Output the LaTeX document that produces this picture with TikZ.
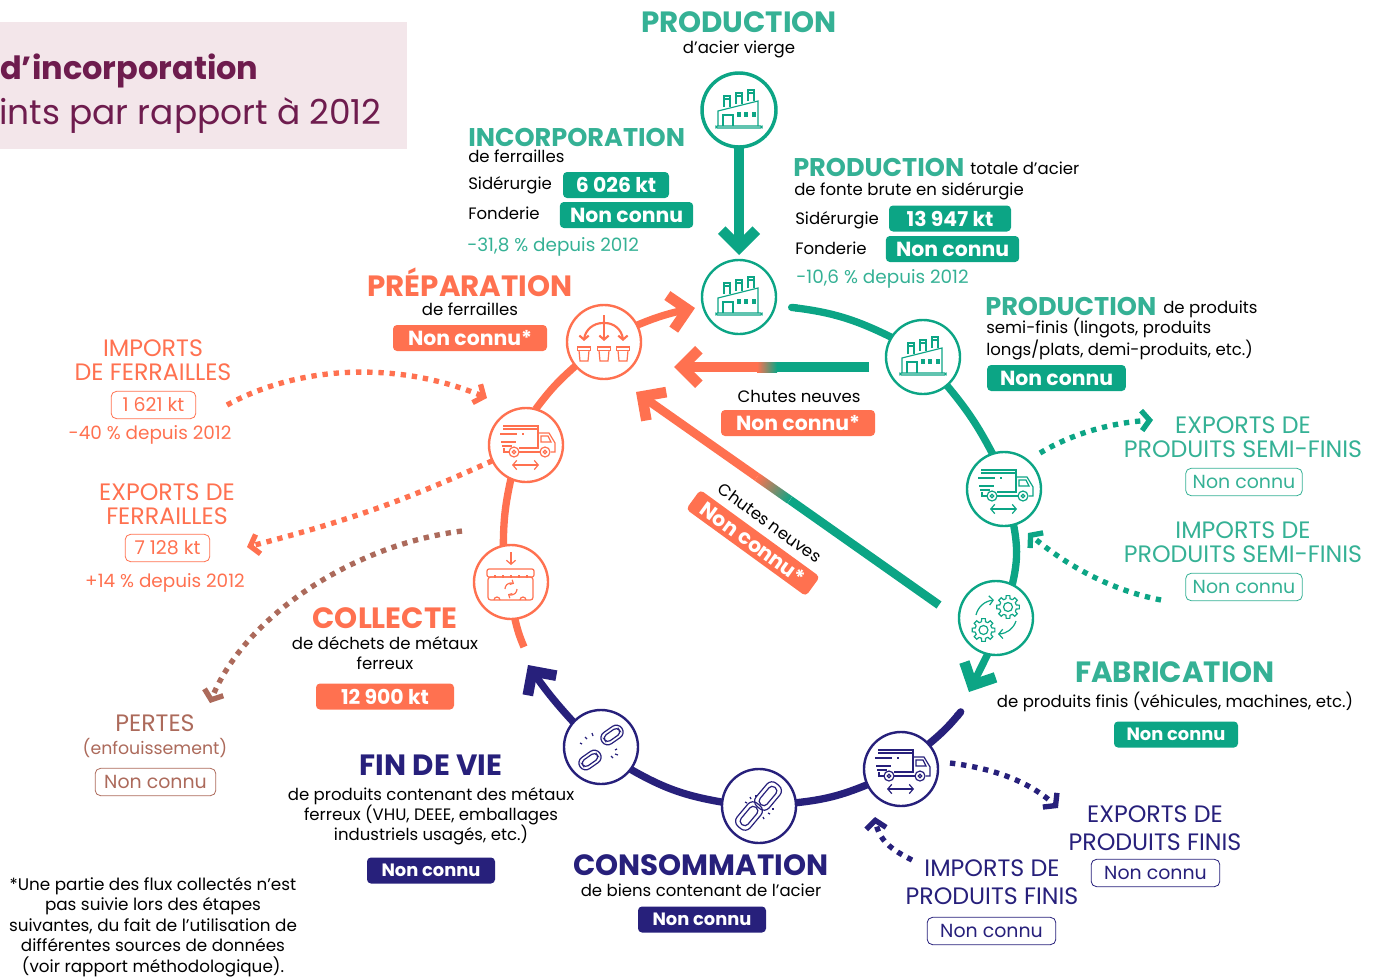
\documentclass[tikz,border=0pt]{standalone}
\usepackage{fontspec}
\setmainfont{Poppins}
\usetikzlibrary{arrows.meta,bending}
\definecolor{vert}{HTML}{0CA585}
\definecolor{vertclair}{HTML}{35B195}
\definecolor{orange}{HTML}{FF7150}
\definecolor{marine}{HTML}{27207B}
\definecolor{brun}{HTML}{AC6A5B}
\definecolor{bordeaux}{HTML}{6E1C4E}
\definecolor{rose}{HTML}{F3E6EA}
\tikzset{
	x=0.75pt,y=-0.75pt,
	etape/.style={draw,circle,minimum size=55.5pt,inner sep=0pt,outer sep=0pt,line width=1.8pt,fill=none},
	titre/.style={font=\fontsize{22}{24}\selectfont\bfseries,inner sep=0pt},
	soustitre/.style={font=\fontsize{19.2}{21}\selectfont\bfseries,inner sep=0pt},
	texte/.style={font=\fontsize{12.4}{15}\selectfont,inner sep=0pt,align=center,text=black},
	ligne/.style={texte,text height=11pt,text depth=2.5pt},
	pourcent/.style={ligne,font=\fontsize{13.8}{15}\selectfont},
	flux/.style={font=\fontsize{17.8}{18}\selectfont,inner sep=0pt,align=center},
	valeur/.style={font=\fontsize{15.3}{16}\selectfont\bfseries,text=white,rounded corners=3pt,inner sep=0pt,minimum height=19.5pt},
	petitevaleur/.style={valeur,font=\fontsize{13.4}{15}\selectfont\bfseries},
	contour/.style={font=\fontsize{14.2}{15}\selectfont,draw,rounded corners=4pt,inner sep=0pt,minimum height=20.5pt,line width=.6pt},
	anneau/.style={line width=5.5pt},
	pointille/.style={line width=4pt,dash pattern=on 4pt off 4.4pt},
	grande/.style={-{Straight Barb[length=13pt,width=26pt,line width=8pt]}},
	petite/.style={-{Straight Barb[length=6pt,width=15pt,line width=4pt]}},
	trait/.style={line width=.9pt},
	pics/usine/.style={code={
		\draw[trait] (-21,16)--(-21,1)--(19,-9)--(19,16);
		\draw[trait] (-16,16)--(-16,5)--(-6,5)--(-6,16);
		\draw[trait,rounded corners=1pt] (-23,16) rectangle (23,18);
		\foreach \cx/\cy in {-12/-14,0/-17,12/-20} {
			\draw[trait] (\cx-3,\cy+11)--(\cx-3,\cy)--(\cx+3,\cy)--(\cx+3,\cy+11);
			\draw[trait] (\cx-3,\cy+3)--(\cx+3,\cy+3);
		}
		\foreach \cx in {0,7,15}
			\draw[trait] (\cx-1,3) rectangle (\cx+1,6);
	}},
	pics/camion/.style={code={
		\draw[trait] (-23,-19)--(12,-19)--(12,3)--(-7,3);
		\draw[trait] (-23,-16)--(12,-16);
		\draw[trait] (-26,-11)--(-9,-11) (-4,-11)--(-2,-11) (-25,-3)--(-10,-3) (-24,1)--(-14,1);
		\draw[trait] (-22,3)--(-22,7)--(-17,7) (-7,7)--(14,7);
		\draw[trait] (12,-12)--(23,-12)--(29,-2)--(29,7)--(25,7);
		\draw[trait] (15,-9)--(22,-9)--(25,-3)--(15,-3)--cycle;
		\foreach \rx in {-12,19} {
			\draw[trait] (\rx,7) circle (5);
			\draw[trait] (\rx,7) circle (1.8);
		}
		\draw[trait,{Straight Barb[length=3pt,width=7pt]}-{Straight Barb[length=3pt,width=7pt]}] (-14,20)--(13,20);
	}},
	pics/roue/.style={code={
		\draw[trait] (0,0) circle (4.5);
		\foreach \a in {0,45,...,315}
			\draw[trait] (\a-14:8.5)--(\a-9:11.5)--(\a+9:11.5)--(\a+14:8.5)--(\a+31:8.5);
	}},
	pics/engrenages/.style={code={
		\pic at (12,-11) {roue};
		\pic at (-12.5,12) {roue};
		\draw[trait,-{Straight Barb[length=3pt,width=7pt]}] (-20,-3) to[bend left=35] (-2,-18);
		\draw[trait,-{Straight Barb[length=3pt,width=7pt]}] (20,3) to[bend left=35] (2,16);
	}},
	pics/maillon/.style={code={
		\draw[trait,rounded corners=5pt] (-15,-8.5) rectangle (15,8.5);
		\draw[trait,rounded corners=3pt] (-11,-4.5) rectangle (11,4.5);
	}},
	pics/chaine/.style={code={
		\pic[rotate=50] at (9,-10) {maillon};
		\pic[rotate=50] at (-10,10) {maillon};
		\foreach \ax/\ay/\bx/\by in {-8/-7/-9/-9,-3/-9/-3/-11,-12/-3/-14/-4,9/7/11/8,4/11/5/13,13/3/15/3}
			\draw[trait] (\ax,\ay)--(\bx,\by);
	}},
	pics/rompue/.style={code={
		\pic[rotate=35,scale=.8] at (11,-12) {maillon};
		\pic[rotate=35,scale=.8] at (-11,13) {maillon};
		\foreach \ax/\ay/\bx/\by in {-14/-8/-16/-10,-8/-11/-9/-14,-19/-3/-21/-4,14/3/16/2,10/9/12/11,14/7/17/8}
			\draw[trait] (\ax,\ay)--(\bx,\by);
	}},
	pics/tri/.style={code={
		\foreach \bx in {-20,0,19} {
			\draw[trait] (\bx-6.5,5) rectangle (\bx+6.5,8.5);
			\draw[trait] (\bx-5,8.5)--(\bx-4,19)--(\bx+4,19)--(\bx+5,8.5);
		}
		\draw[line width=1.6pt,-{Straight Barb[length=3pt,width=7pt]}] (0,-27)--(0,-1);
		\draw[line width=1.6pt,-{Straight Barb[length=3pt,width=7pt]}] (-1,-19) to[out=180,in=90] (-20,-1);
		\draw[line width=1.6pt,-{Straight Barb[length=3pt,width=7pt]}] (1,-19) to[out=0,in=90] (19,-1);
	}},
	pics/benne/.style={code={
		\draw[trait,-{Straight Barb[length=3pt,width=7pt]}] (0,-30)--(0,-17);
		\draw[trait,rounded corners=1.5pt] (-24,-13) rectangle (23,-5);
		\foreach \dx in {-16,-8,0,8,16}
			\draw[trait] (\dx,-7)--(\dx,-4);
		\draw[trait,rounded corners=2pt] (-23,-5) rectangle (22,18);
		\foreach \rx in {-14,12}
			\draw[trait] (\rx-3,18) arc[start angle=180,end angle=360,radius=3];
		\draw[trait,-{Straight Barb[length=2pt,width=4pt]}] (-6,7) arc[start angle=180,end angle=300,radius=6];
		\draw[trait,-{Straight Barb[length=2pt,width=4pt]}] (6,7) arc[start angle=0,end angle=120,radius=6];
	}},
}
\begin{document}
\begin{tikzpicture}
	\useasboundingbox (0,0) rectangle (1379,978);
	% encadre du titre
	\fill[rose] (0,22) rectangle (407,149);
	\node[anchor=west,inner sep=0pt,text=bordeaux,font=\fontsize{24}{26}\selectfont\bfseries] (titrea) at (0,71) {d’incorporation};
	\node[anchor=east,inner sep=0pt,text=bordeaux,font=\fontsize{25.8}{28}\selectfont] (titreb) at (382,116) {ints par rapport à 2012};

	% etapes
	\node[etape,vert,line width=2.6pt] (fa) at (739,110) {};
	\node[etape,vert] (fb) at (739,297) {};
	\node[etape,vert] (fc) at (923,357) {};
	\node[etape,vert] (ta) at (1004,489) {};
	\node[etape,vert] (g) at (996,618) {};
	\node[etape,marine] (tb) at (901,769) {};
	\node[etape,marine] (c) at (759,806) {};
	\node[etape,marine] (b) at (601,747) {};
	\node[etape,orange] (d) at (511,582) {};
	\node[etape,orange] (tc) at (526,445) {};
	\node[etape,orange] (s) at (604,342) {};

	\pic[vert] at (fa) {usine};
	\pic[vert] at (fb) {usine};
	\pic[vert] at (fc) {usine};
	\pic[vert] at (ta) {camion};
	\pic[vert] at (g) {engrenages};
	\pic[marine] at (tb) {camion};
	\pic[marine] at (c) {chaine};
	\pic[marine] at (b) {rompue};
	\pic[orange] at (d) {benne};
	\pic[orange] at (tc) {camion};
	\pic[orange] at (s) {tri};

	% points libres
	\coordinate (fba) at (788,307);
	\coordinate (gfl) at (969,692);
	\coordinate (tba) at (963,709);
	\coordinate (bfl) at (528,665);
	\coordinate (dba) at (524,647);
	\coordinate (sfl) at (695,308);
	\coordinate (fal) at (739,255);
	\coordinate (ha) at (869,367);
	\coordinate (hb) at (777,367);
	\coordinate (hc) at (757,367);
	\coordinate (hd) at (674,367);
	\coordinate (da) at (939,605);
	\coordinate (db) at (790,500);
	\coordinate (dc) at (757,477);
	\coordinate (dd) at (636,392);

	% anneau
	\draw[vert,line width=7pt,grande] (fa) -- (fal);
	\draw[anneau,vert,{Round Cap[]}-] (fba) to[bend left=10] (fc.148);
	\draw[anneau,vert] (fc.-50) to[bend left=6] (ta.108);
	\draw[anneau,vert] (ta.-75) to[bend left=12] (g.64);
	\draw[anneau,vert,grande] (g.-103) -- (gfl);
	\draw[anneau,marine,{Round Cap[]}-] (tba) to[bend left=6] (tb.42);
	\draw[anneau,marine] (tb.205) to[bend left=8] (c.5);
	\draw[anneau,marine] (c.174) to[bend left=10] (b.-37);
	\draw[anneau,marine,grande] (b.138) to[bend left=4] (bfl);
	\draw[anneau,orange] (dba) to[bend left=5] (d.-84);
	\draw[anneau,orange] (d.102) to[bend left=6] (tc.-114);
	\draw[anneau,orange] (tc.75) to[bend left=6] (s.220);
	\draw[anneau,orange,grande] (s.27) to[bend left=6] (sfl);

	% chutes
	\draw[vert,line width=7.5pt] (ha) -- (hb);
	\shade[left color=orange,right color=vert] (757,362) rectangle (777,372);
	\draw[orange,line width=7.5pt,grande] (hc) -- (hd);
	\draw[vert,line width=6.5pt] (da) -- (db);
	\shade[transform canvas={shift={(dc)},rotate=-35},left color=orange,right color=vert] (0,-4.4) rectangle (40,4.4);
	\draw[orange,line width=6.5pt,grande] (dc) -- (dd);

	% flux pointilles
	\coordinate (ifa) at (227,405);
	\coordinate (ifb) at (487,398);
	\coordinate (efb) at (247,547);
	\coordinate (pa) at (462,531);
	\coordinate (pb) at (210,703);
	\coordinate (esa) at (1040,453);
	\coordinate (esb) at (1153,420);
	\coordinate (isa) at (1161,600);
	\coordinate (isb) at (1028,533);
	\coordinate (epa) at (950,763);
	\coordinate (epb) at (1058,808);
	\coordinate (ipa) at (912,860);
	\coordinate (ipb) at (875,817);
	\draw[pointille,orange,petite] (ifa) .. controls (300,365) and (400,360) .. (ifb);
	\draw[pointille,orange,petite] (tc) to[bend left=5] (efb);
	\draw[pointille,brun,petite] (pa) .. controls (350,545) and (240,620) .. (pb);
	\draw[pointille,vert,petite] (esa) .. controls (1075,432) and (1115,422) .. (esb);
	\draw[pointille,vert,petite] (isa) .. controls (1110,590) and (1065,565) .. (isb);
	\draw[pointille,marine,petite] (epa) .. controls (990,768) and (1030,780) .. (epb);
	\draw[pointille,marine,petite] (ipa) .. controls (888,848) and (877,838) .. (ipb);

	% textes
	\node[titre,vertclair] (prodv) at (739,22) {PRODUCTION};
	\node[ligne] (prodvb) at (739,48) {d’acier vierge};

	\node[soustitre,vertclair,anchor=west] (inc) at (468,137) {INCORPORATION};
	\node[ligne,anchor=west] (incb) at (468,157) {de ferrailles};
	\node[ligne,anchor=west] (incc) at (468,184) {Sidérurgie};
	\node[ligne,anchor=west] (incd) at (468,214) {Fonderie};
	\node[valeur,fill=vert,minimum width=79.5pt] (ince) at (616,185) {6 026 kt};
	\node[valeur,fill=vert,minimum width=100pt] (incf) at (626.5,215) {Non connu};
	\node[pourcent,anchor=west,text=vertclair] (incg) at (467,246) {-31,8 \% depuis 2012};

	\node[soustitre,vertclair,anchor=west] (prodt) at (793,167) {PRODUCTION};
	\node[ligne,anchor=west] (prodtb) at (970,169) {totale d’acier};
	\node[ligne,anchor=west] (prodtc) at (794,190) {de fonte brute en sidérurgie};
	\node[ligne,anchor=west] (prodtd) at (795,219) {Sidérurgie};
	\node[ligne,anchor=west] (prodte) at (795,249) {Fonderie};
	\node[valeur,fill=vert,minimum width=91.5pt] (prodtf) at (950,218.5) {13 947 kt};
	\node[valeur,fill=vert,minimum width=100pt] (prodtg) at (952.5,249) {Non connu};
	\node[pourcent,anchor=west,text=vertclair] (prodth) at (796,278) {-10,6 \% depuis 2012};

	\node[titre,orange] (prep) at (470,282) {PRÉPARATION};
	\node[ligne] (prepb) at (470,310) {de ferrailles};
	\node[valeur,fill=orange,minimum width=115.5pt] (prepc) at (470,338) {Non connu*};

	\node[soustitre,vertclair,anchor=west] (prods) at (985,306) {PRODUCTION};
	\node[ligne,anchor=west] (prodsb) at (1163,308) {de produits};
	\node[texte,anchor=west,align=left] (prodsc) at (986,339) {semi-finis (lingots, produits\\longs/plats, demi-produits, etc.)};
	\node[valeur,fill=vert,minimum width=104pt] (prodsd) at (1056.5,378) {Non connu};

	\node[flux,orange] (imf) at (153,360) {IMPORTS\\DE FERRAILLES};
	\node[contour,orange,minimum width=63.5pt] (imfb) at (153.5,405) {1 621 kt};
	\node[pourcent,text=orange] (imfc) at (150,434) {-40 \% depuis 2012};

	\node[flux,orange] (exf) at (167,504) {EXPORTS DE\\FERRAILLES};
	\node[contour,orange,minimum width=63.5pt] (exfb) at (167.5,548) {7 128 kt};
	\node[pourcent,text=orange] (exfc) at (165,582) {+14 \% depuis 2012};

	\node[ligne] (cha) at (799,397) {Chutes neuves};
	\node[valeur,fill=orange,minimum width=115.5pt] (chb) at (798,423) {Non connu*};
	\node[texte,rotate=-36] (chc) at (770,523) {Chutes neuves};
	\node[valeur,fill=orange,minimum width=111pt,minimum height=18pt,rotate=-36] (chd) at (753,543) {Non connu*};

	\node[flux,vertclair] (exs) at (1243,437) {EXPORTS DE\\PRODUITS SEMI-FINIS};
	\node[contour,vertclair,minimum width=87.5pt] (exsb) at (1244,482) {Non connu};
	\node[flux,vertclair] (ims) at (1243,542) {IMPORTS DE\\PRODUITS SEMI-FINIS};
	\node[contour,vertclair,minimum width=87.5pt] (imsb) at (1244,587) {Non connu};

	\node[titre,orange] (col) at (385,618) {COLLECTE};
	\node[texte] (colb) at (385,653) {de déchets de métaux\\ferreux};
	\node[valeur,fill=orange,minimum width=103.5pt] (colc) at (385,696.5) {12 900 kt};

	\node[titre,vertclair] (fab) at (1175,672) {FABRICATION};
	\node[ligne] (fabb) at (1175,702) {de produits finis (véhicules, machines, etc.)};
	\node[petitevaleur,fill=vert,minimum width=93pt] (fabc) at (1176,734.5) {Non connu};

	\node[flux,brun] (per) at (155,723) {PERTES};
	\node[ligne,text=brun,font=\fontsize{13}{15}\selectfont] (perb) at (155,749) {(enfouissement)};
	\node[contour,brun,minimum width=90.5pt] (perc) at (155.5,782) {Non connu};

	\node[titre,marine] (fin) at (431,765) {FIN DE VIE};
	\node[texte] (finb) at (431,816) {de produits contenant des métaux\\ferreux (VHU, DEEE, emballages\\industriels usagés, etc.)};
	\node[petitevaleur,fill=marine,minimum width=96pt] (finc) at (431,870.5) {Non connu};

	\node[titre,marine] (con) at (701,865) {CONSOMMATION};
	\node[ligne] (conb) at (701,891) {de biens contenant de l’acier};
	\node[petitevaleur,fill=marine,minimum width=96pt] (conc) at (702,919.5) {Non connu};

	\node[flux,marine,font=\fontsize{17.8}{21}\selectfont] (exp) at (1155,828) {EXPORTS DE\\PRODUITS FINIS};
	\node[contour,marine,minimum width=96.5pt] (expb) at (1155.5,873) {Non connu};
	\node[flux,marine,font=\fontsize{17.8}{21}\selectfont] (imp) at (992,882) {IMPORTS DE\\PRODUITS FINIS};
	\node[contour,marine,minimum width=96.5pt] (impb) at (991.5,931) {Non connu};

	\node[texte,font=\fontsize{12.6}{15.4}\selectfont] (note) at (153,927) {*Une partie des flux collectés n’est\\pas suivie lors des étapes\\suivantes, du fait de l’utilisation de\\différentes sources de données\\(voir rapport méthodologique).};
\end{tikzpicture}
\end{document}
